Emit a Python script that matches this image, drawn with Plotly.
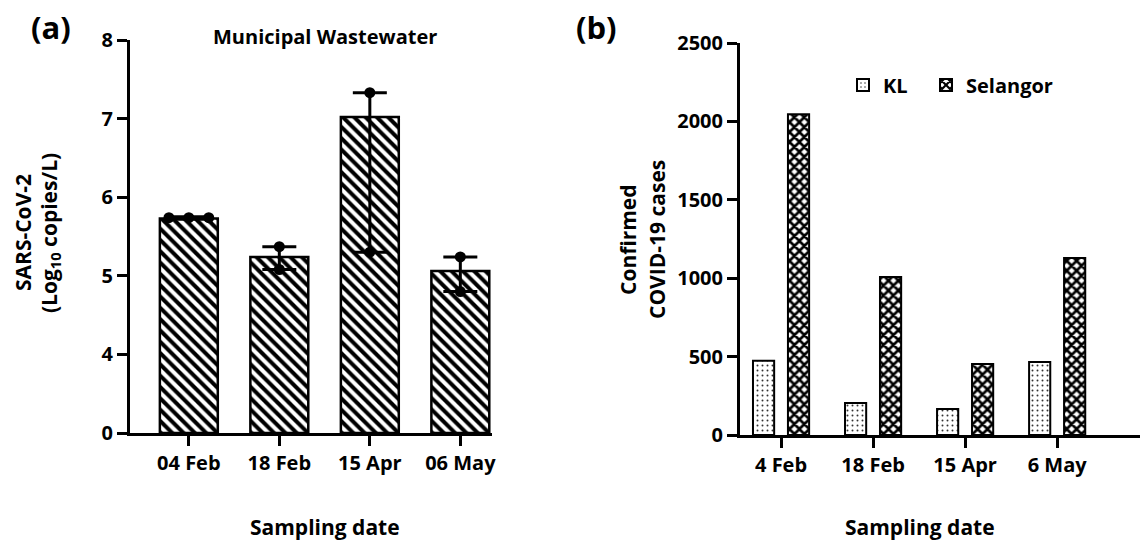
import plotly.graph_objects as go

# ---------------- data ----------------
dates_a = ["04 Feb", "18 Feb", "15 Apr", "06 May"]
mean_a = [5.73, 5.24, 7.02, 5.06]
upper_a = [5.75, 5.37, 7.33, 5.24]
lower_a = [5.72, 5.08, 5.30, 4.80]
# individual replicate points (date index, value)
pts_idx = [0, 0, 0, 1, 1, 2, 2, 3, 3]
pts_val = [5.74, 5.74, 5.74, 5.37, 5.08, 7.33, 5.30, 5.24, 4.80]
ticks_a = [0, 4, 5, 6, 7, 8]

dates_b = ["4 Feb", "18 Feb", "15 Apr", "6 May"]
kl = [474, 204, 166, 466]
selangor = [2045, 1008, 453, 1129]
ticks_b = [0, 500, 1000, 1500, 2000, 2500]

# ---------------- helpers ----------------
W, H = 1140, 541
FONT = "Open Sans"


def seg(v):
    """broken y axis of panel (a): 0..4 compressed into one tick interval"""
    return v / 4.0 if v < 4 else v - 3.0


def px_x(p):
    return p / W


def px_y(p):
    return 1 - p / H


jitter = [-0.22, 0.0, 0.22, 0, 0, 0, 0, 0, 0]

fig = go.Figure()

xa = list(range(len(dates_a)))
fig.add_trace(go.Bar(
    x=xa, y=[seg(v) for v in mean_a], width=0.64,
    marker=dict(color="white", line=dict(color="black", width=2.5),
                pattern=dict(shape="\\", fgcolor="black", bgcolor="white",
                             size=8, solidity=0.5, fillmode="replace")),
    xaxis="x", yaxis="y", showlegend=False, hoverinfo="skip"))

fig.add_trace(go.Scatter(
    x=xa, y=[seg(v) for v in mean_a], mode="markers",
    marker=dict(size=1, color="rgba(0,0,0,0)"),
    error_y=dict(type="data", symmetric=False,
                 array=[u - m for u, m in zip(upper_a, mean_a)],
                 arrayminus=[m - l for m, l in zip(mean_a, lower_a)],
                 color="black", thickness=3, width=17),
    xaxis="x", yaxis="y", showlegend=False, hoverinfo="skip"))

fig.add_trace(go.Scatter(
    x=[i + j for i, j in zip(pts_idx, jitter)], y=[seg(v) for v in pts_val],
    mode="markers", marker=dict(size=11, color="black"),
    xaxis="x", yaxis="y", showlegend=False, hoverinfo="skip"))

xb = list(range(len(dates_b)))
fig.add_trace(go.Bar(
    x=xb, y=kl, name="KL", width=0.23, offset=-0.305, legend="legend",
    marker=dict(color="white", line=dict(color="black", width=2),
                pattern=dict(shape=".", fgcolor="#333", bgcolor="white",
                             size=5, solidity=0.12, fillmode="replace")),
    xaxis="x2", yaxis="y2", hoverinfo="skip"))
fig.add_trace(go.Bar(
    x=xb, y=selangor, name="Selangor", width=0.23, offset=0.075, legend="legend2",
    marker=dict(color="white", line=dict(color="black", width=2),
                pattern=dict(shape="x", fgcolor="black", bgcolor="white",
                             size=7, solidity=0.62, fillmode="replace")),
    xaxis="x2", yaxis="y2", hoverinfo="skip"))

tickfont = dict(family=FONT, size=20, color="black", weight="bold")
axis_common = dict(showline=True, linecolor="black", linewidth=3,
                   ticks="outside", ticklen=10, tickwidth=3, tickcolor="black",
                   showgrid=False, zeroline=False, tickfont=tickfont,
                   fixedrange=True, automargin=False)

legend_common = dict(orientation="h", xanchor="left", yanchor="middle",
                     bgcolor="rgba(0,0,0,0)",
                     font=dict(family=FONT, size=20, color="black", weight="bold"))

fig.update_layout(
    template="none",
    width=W, height=H, margin=dict(l=0, r=0, t=0, b=0, autoexpand=False),
    paper_bgcolor="white", plot_bgcolor="white",
    barmode="overlay",
    xaxis=dict(domain=[px_x(130), px_x(492)], range=[-0.65, 3.35],
               tickvals=xa, ticktext=dates_a, anchor="y", **axis_common),
    yaxis=dict(domain=[px_y(433), px_y(40)], range=[0, 5],
               tickvals=[seg(v) for v in ticks_a],
               ticktext=[str(v) for v in ticks_a], anchor="x", **axis_common),
    xaxis2=dict(domain=[px_x(740), px_x(1140)], range=[-0.446, 3.9],
                tickvals=xb, ticktext=dates_b, anchor="y2", **axis_common),
    yaxis2=dict(domain=[px_y(435), px_y(43)], range=[0, 2500],
                tickvals=ticks_b, anchor="x2", **axis_common),
    legend=dict(x=px_x(843), y=px_y(85), **legend_common),
    legend2=dict(x=px_x(926), y=px_y(85), **legend_common),
    font=dict(family=FONT, color="black"),
)

ann_font = dict(family=FONT, size=21, color="black", weight="bold")
annotations = [
    dict(text="(a)", x=px_x(51), y=px_y(27), font=dict(family=FONT, size=31, color="black", weight="bold")),
    dict(text="(b)", x=px_x(596), y=px_y(27), font=dict(family=FONT, size=31, color="black", weight="bold")),
    dict(text="Municipal Wastewater", x=px_x(325), y=px_y(37), font=dict(family=FONT, size=20, color="black", weight="bold")),
    dict(text="Sampling date", x=px_x(325), y=px_y(527), font=ann_font),
    dict(text="Sampling date", x=px_x(920), y=px_y(527), font=ann_font),
    dict(text="SARS-CoV-2", x=px_x(23), y=px_y(233), textangle=-90, font=ann_font),
    dict(text="(Log<sub>10</sub> copies/L)", x=px_x(50), y=px_y(233), textangle=-90, font=ann_font),
    dict(text="Confirmed", x=px_x(628), y=px_y(240), textangle=-90, font=ann_font),
    dict(text="COVID-19 cases", x=px_x(657), y=px_y(240), textangle=-90, font=ann_font),
]
for a in annotations:
    a.update(xref="paper", yref="paper", showarrow=False, xanchor="center", yanchor="middle")
fig.update_layout(annotations=annotations)

fig.write_html("out.html", config={"displayModeBar": False},
               post_script="document.body.style.margin='0';document.body.style.overflow='hidden';")
